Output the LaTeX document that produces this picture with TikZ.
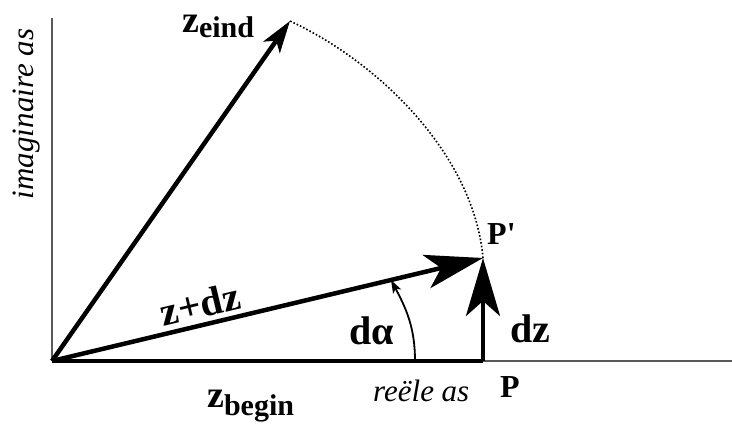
\documentclass[tikz,border=0pt]{standalone}
\usepackage{fontspec}
\setmainfont{Liberation Serif}
\usetikzlibrary{arrows.meta}

\newcommand{\fsz}[1]{\fontsize{#1}{#1}\selectfont}

\begin{document}
\begin{tikzpicture}[x=1pt, y=1pt,
  axisline/.style={draw=black!65, line width=2.2pt},
  vec/.style={line width=4.5pt, -{Stealth[length=58pt,width=34pt,inset=15pt]}},
  smallvec/.style={line width=4.5pt, -{Stealth[length=32pt,width=20pt,inset=8pt]}},
  angarrow/.style={line width=1.8pt, -{Stealth[length=13pt,width=9pt,inset=3pt]}},
  circ/.style={dotted, line width=1.6pt},
  vlabel/.style={font=\bfseries\fsz{38}, inner sep=0pt},
  axlabel/.style={font=\itshape\fsz{31}, inner sep=0pt}
]
\useasboundingbox (0,0) rectangle (732,426);

% points
\coordinate (O) at (52,65);
\coordinate (P) at (483,65);
\coordinate (Pp) at (483,168);
\coordinate (Zeind) at (290,405);
\coordinate (Xend) at (732,65);
\coordinate (Ytop) at (52,408);
\coordinate (alphastart) at (415,65);
\coordinate (alphaend) at (391,146);

% axes
\draw[axisline] (O) -- (Xend);
\draw[axisline] (O) -- (Ytop);

% vectors
\draw[line width=4.5pt] (O) -- (P);
\draw[vec] (P) -- (Pp);
\draw[vec] (O) -- (Pp);
\draw[smallvec] (O) -- (Zeind);
\draw[circ] (Pp) to[out=95, in=-25, looseness=0.85] (Zeind);
\draw[angarrow] (alphastart) to[out=90, in=-62] (alphaend);

% labels
\node[axlabel, rotate=90] (imlabel) at (27,312) {imaginaire as};
\node[axlabel, anchor=base west] (relabel) at (373,24) {reële as};
\node[vlabel, anchor=base west] (zeind) at (182,393)
  {z\raisebox{-5pt}{\fsz{30}eind}};
\node[vlabel, anchor=base west] (zbegin) at (207,18)
  {z\raisebox{-8pt}{\fsz{30}begin}};
\node[vlabel, font=\bfseries\fsz{40}, rotate=13.4] (zdz) at (200,122) {z+dz};
\node[vlabel, font=\bfseries\fsz{40}, anchor=base west] (dalpha) at (349,81) {dα};
\node[vlabel, font=\bfseries\fsz{40}, anchor=base west] (dz) at (510,83) {dz};
\node[vlabel, font=\bfseries\fsz{32}, anchor=base west] (Plabel) at (500,28) {P};
\node[vlabel, font=\bfseries\fsz{32}, anchor=base west] (Pplabel) at (487,181)
  {P\textquotesingle};
\end{tikzpicture}
\end{document}
